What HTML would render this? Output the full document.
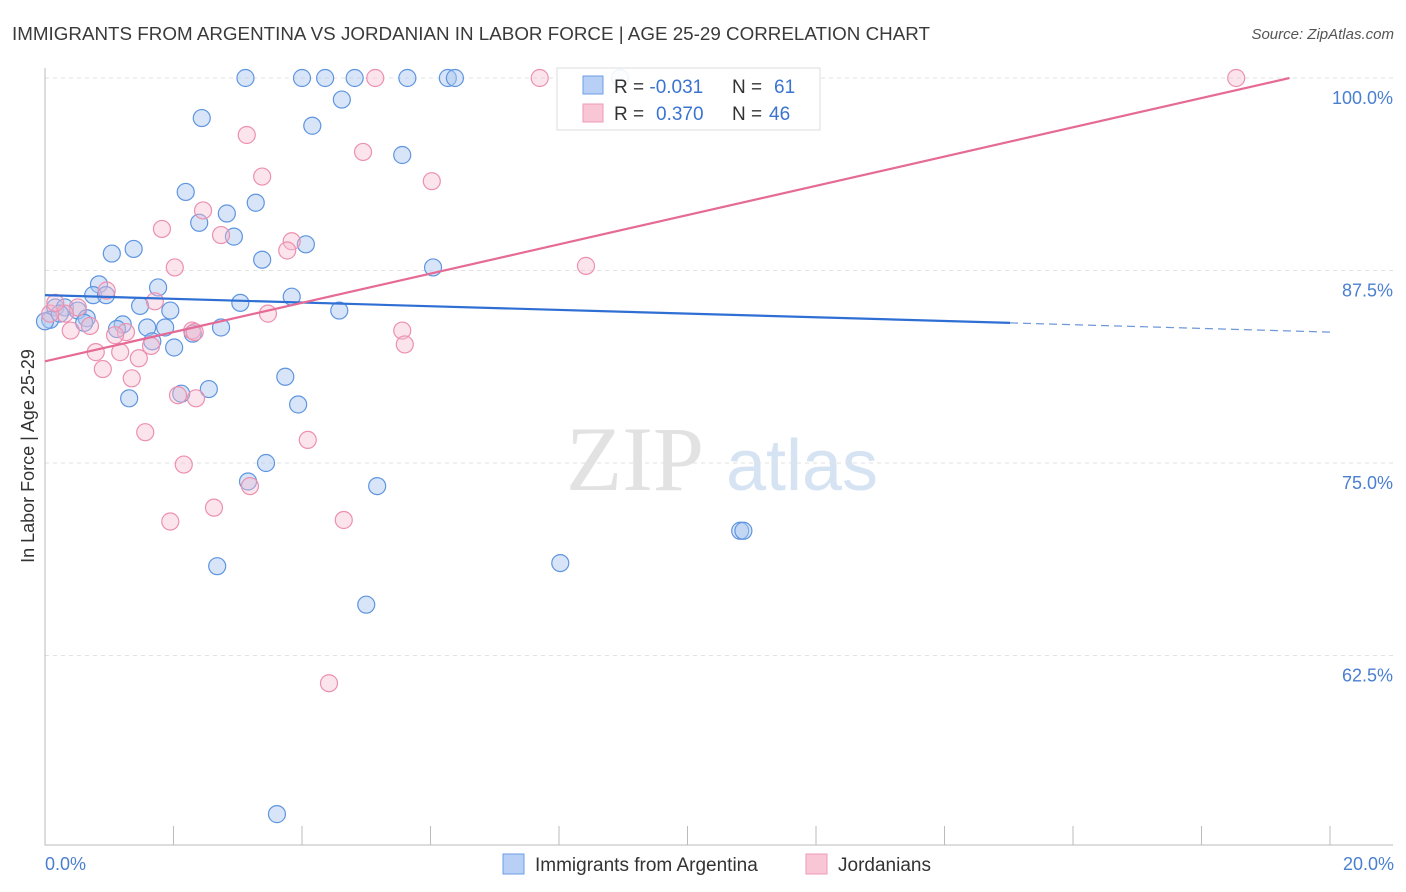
<!DOCTYPE html>
<html><head><meta charset="utf-8">
<style>
body{margin:0;background:#fff;font-family:"Liberation Sans",sans-serif;}
svg{display:block}
</style></head>
<body>
<svg id="chart" width="1406" height="892">
<text x="12" y="40" font-size="18" fill="#3a3a3a" textLength="918" lengthAdjust="spacingAndGlyphs">IMMIGRANTS FROM ARGENTINA VS JORDANIAN IN LABOR FORCE | AGE 25-29 CORRELATION CHART</text>
<text x="1394" y="39" font-size="15" font-style="italic" fill="#555" text-anchor="end">Source: ZipAtlas.com</text>
<text x="635" y="490" font-size="92" fill="#e2e2e2" font-family="Liberation Serif,serif" text-anchor="middle">ZIP</text>
<text x="802" y="490" font-size="72" fill="#d6e3f3" text-anchor="middle">atlas</text>
<g id="grid"></g>
<g id="axes"></g>
<g id="pts"></g>
<g id="trend"></g>
<text x="34" y="456" font-size="18" fill="#333" text-anchor="middle" transform="rotate(-90 34 456)">In Labor Force | Age 25-29</text>
<text x="45" y="870" font-size="18" fill="#4a7fd0">0.0%</text>
<text x="1394" y="870" font-size="18" fill="#4a7fd0" text-anchor="end">20.0%</text>
<g>
<rect x="557" y="68" width="263" height="62" fill="#fff" fill-opacity="0.9" stroke="#ddd"/>
<rect x="583" y="76" width="20" height="18" fill="#b8d0f5" stroke="#6c9ee6"/>
<rect x="583" y="104" width="20" height="18" fill="#f9c6d6" stroke="#ee9ab6"/>
<text x="614" y="93" font-size="19" fill="#333">R = <tspan fill="#3b74d0">-0.031</tspan><tspan x="732">N = </tspan><tspan fill="#3b74d0" x="774">61</tspan></text>
<text x="614" y="120" font-size="19" fill="#333">R = <tspan fill="#3b74d0" x="656">0.370</tspan><tspan x="732">N = </tspan><tspan fill="#3b74d0" x="769">46</tspan></text>
</g>
<g>
<rect x="503" y="854" width="21" height="20" fill="#b8d0f5" stroke="#6c9ee6"/>
<text x="535" y="871" font-size="19" fill="#333">Immigrants from Argentina</text>
<rect x="806" y="854" width="21" height="20" fill="#f9c6d6" stroke="#ee9ab6"/>
<text x="838" y="871" font-size="19" fill="#333">Jordanians</text>
</g>
</svg>
<script>
const yTicks=[100,87.5,75,62.5];
const yTickLabels=["100.0%","87.5%","75.0%","62.5%"];
const blueX=[3.12,4.0,4.36,4.82,5.64,6.27,6.38,4.62,2.44,4.16,5.56,2.19,3.28,2.83,2.4,2.94,1.04,1.38,4.06,3.38,6.04,0.84,1.76,0.75,0.95,3.84,3.04,1.48,1.95,4.58,0.16,0.31,0.51,0.65,0.61,1.21,1.12,1.59,1.87,2.3,2.74,1.67,2.01,3.74,2.55,2.12,1.31,3.94,3.44,3.16,5.17,8.02,10.82,10.87,2.68,5.0,3.61,0.08,0.0,0.23,8.95];
const blueY=[100,100,100,100,100,100,100,98.6,97.4,96.9,95.0,92.6,91.9,91.2,90.6,89.7,88.6,88.9,89.2,88.2,87.7,86.6,86.4,85.9,85.9,85.8,85.4,85.2,84.9,84.9,85.1,85.1,84.9,84.4,84.1,84.0,83.7,83.8,83.8,83.4,83.8,82.9,82.5,80.6,79.8,79.5,79.2,78.8,75.0,73.8,73.5,68.5,70.6,70.6,68.3,65.8,52.2,84.3,84.2,84.7,100];
const pinkX=[5.14,7.7,18.54,3.14,4.95,3.38,6.02,2.46,1.82,2.74,3.84,3.77,2.02,8.42,0.96,1.71,0.51,3.47,0.31,0.7,0.4,2.29,1.26,1.09,5.56,0.79,1.17,1.46,5.6,1.65,0.9,1.35,2.07,2.35,1.56,4.09,2.16,3.19,2.63,4.65,1.95,4.42,0.08,0.16,2.33];
const pinkY=[100,100,100,96.3,95.2,93.6,93.3,91.4,90.2,89.8,89.4,88.8,87.7,87.8,86.2,85.5,85.1,84.7,84.7,83.9,83.6,83.6,83.5,83.3,83.6,82.2,82.2,81.8,82.7,82.6,81.1,80.5,79.4,79.2,77.0,76.5,74.9,73.5,72.1,71.3,71.2,60.7,84.7,85.4,83.5];
const blueTrend=[[0,85.9],[15.02,84.1],[20,83.5]];
const pinkTrend=[[0,81.6],[19.37,100]];
const X=v=>45+v/20*1285, Y=v=>78+(100-v)*15.4;
const NS="http://www.w3.org/2000/svg";
function mk(t,a,p){const e=document.createElementNS(NS,t);for(const k in a)e.setAttribute(k,a[k]);p.appendChild(e);return e;}
const grid=document.getElementById('grid'),axes=document.getElementById('axes'),pts=document.getElementById('pts'),tr=document.getElementById('trend');
yTicks.forEach((v,i)=>{
 const l=mk('line',{x1:45,x2:1393,y1:Y(v),y2:Y(v),stroke:'#e2e2e2','stroke-dasharray':'4 4'},grid);
 
 
 const t=mk('text',{x:1393,y:Y(v)+26,'font-size':18,fill:'#4a7fd0','text-anchor':'end'},grid);
 t.textContent=yTickLabels[i];
 
 
});
const ax=mk('path',{d:'M45 68V845H1393',stroke:'#bbb',fill:'none'},axes);


for(let i=0;i<=10;i++){const t=mk('line',{x1:X(i*2),x2:X(i*2),y1:826,y2:845,stroke:'#bbb'},axes);
 
 }
blueX.forEach((x,i)=>{const c=mk('circle',{cx:X(x),cy:Y(blueY[i]),r:8.5,fill:'#a9c6f0','fill-opacity':0.45,stroke:'#5f95e0','stroke-width':1.2},pts);
 
 });
pinkX.forEach((x,i)=>{const c=mk('circle',{cx:X(x),cy:Y(pinkY[i]),r:8.5,fill:'#f7bcd0','fill-opacity':0.4,stroke:'#ec90b0','stroke-width':1.2},pts);
 
 });
let l=mk('line',{x1:X(blueTrend[0][0]),y1:Y(blueTrend[0][1]),x2:X(blueTrend[1][0]),y2:Y(blueTrend[1][1]),stroke:'#2f6fd4','stroke-width':2.2},tr);


l=mk('line',{x1:X(blueTrend[1][0]),y1:Y(blueTrend[1][1]),x2:X(blueTrend[2][0]),y2:Y(blueTrend[2][1]),stroke:'#6f98d8','stroke-width':1.2,'stroke-dasharray':'8 5'},tr);


l=mk('line',{x1:X(pinkTrend[0][0]),y1:Y(pinkTrend[0][1]),x2:X(pinkTrend[1][0]),y2:Y(pinkTrend[1][1]),stroke:'#e56a95','stroke-width':2.2},tr);


</script>
</body></html>
